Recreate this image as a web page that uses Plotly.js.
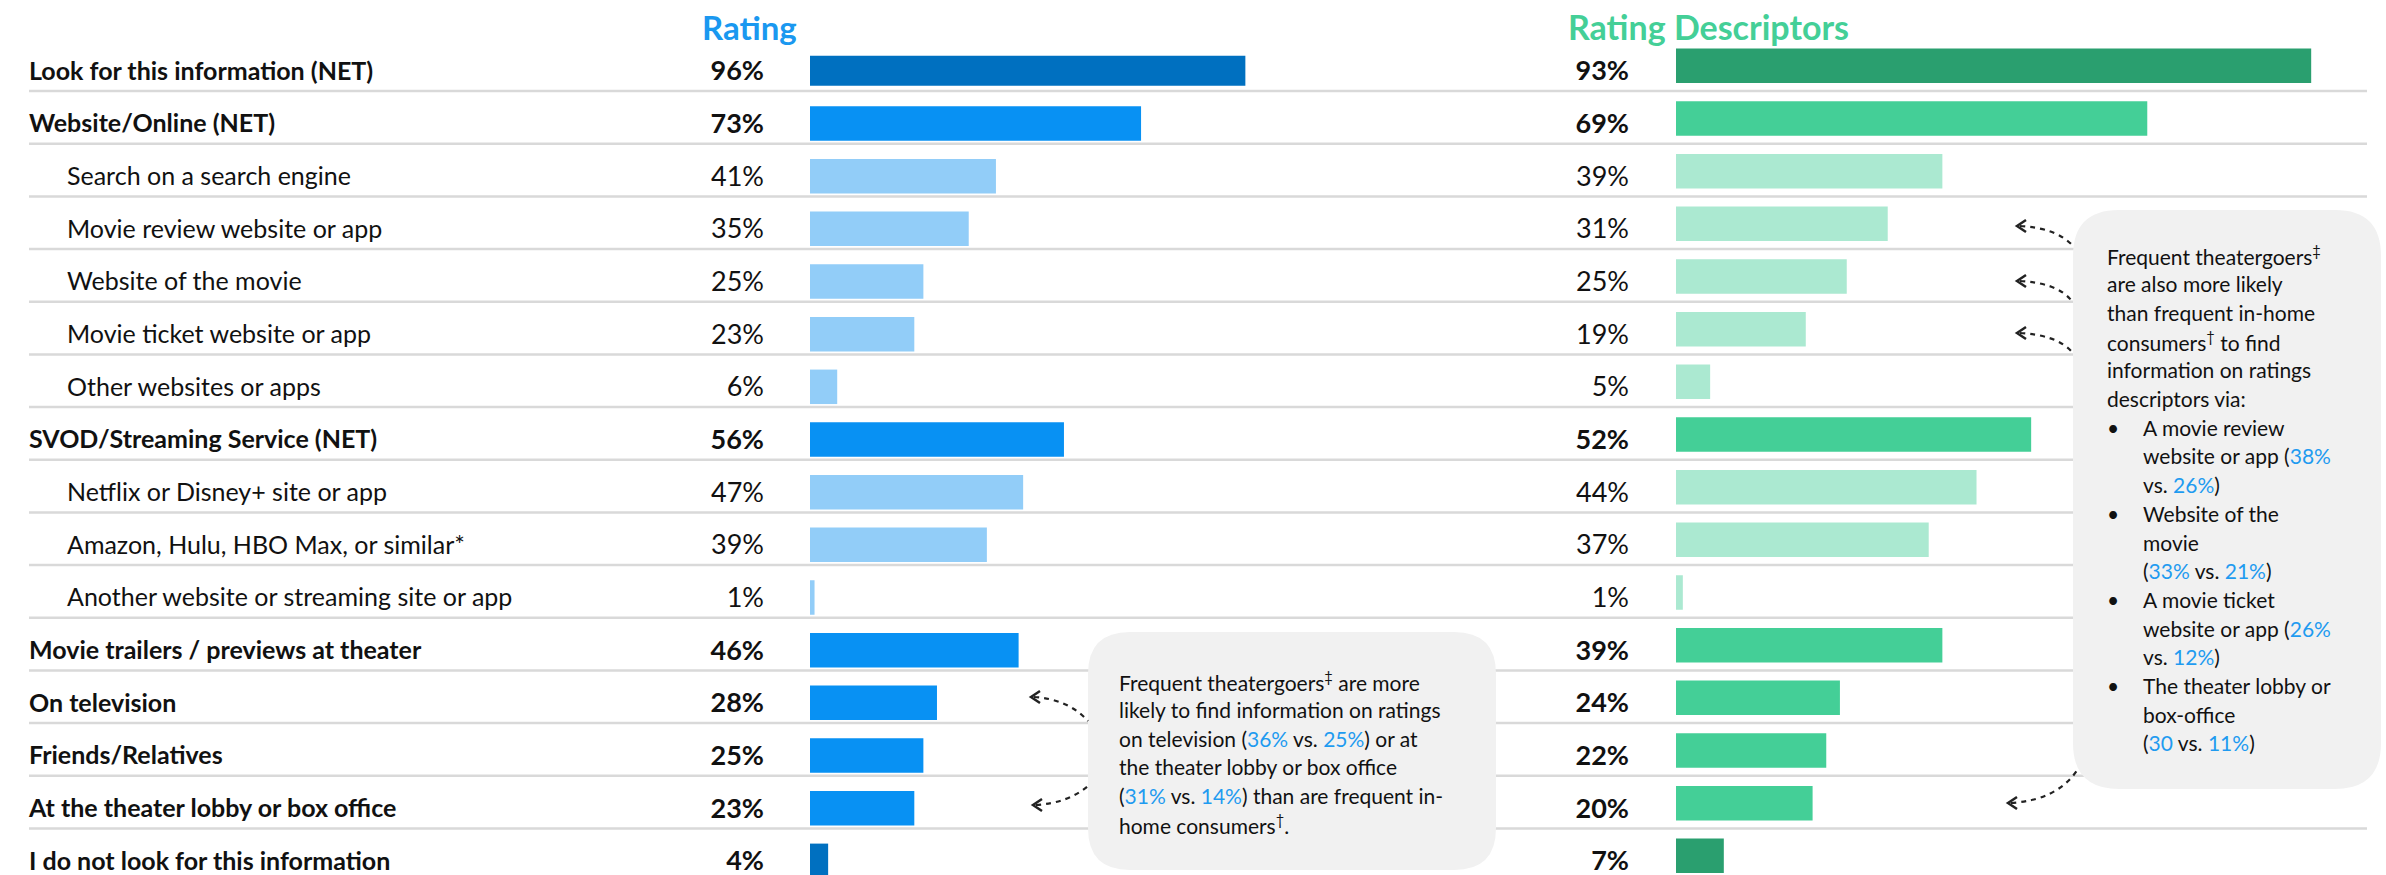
<!DOCTYPE html>
<html>
<head>
<meta charset="utf-8">
<script src="https://cdn.plot.ly/plotly-3.0.1.min.js"></script>
<style>
  html, body { margin: 0; padding: 0; background: #ffffff; }
  #chart { width: 2386px; height: 875px; }
</style>
</head>
<body>
<div id="chart"></div>
<script>
// ---------------- DATA ----------------
const categories = [
  "Look for this information (NET)",
  "Website/Online (NET)",
  "Search on a search engine",
  "Movie review website or app",
  "Website of the movie",
  "Movie ticket website or app",
  "Other websites or apps",
  "SVOD/Streaming Service (NET)",
  "Netflix or Disney+ site or app",
  "Amazon, Hulu, HBO Max, or similar*",
  "Another website or streaming site or app",
  "Movie trailers / previews at theater",
  "On television",
  "Friends/Relatives",
  "At the theater lobby or box office",
  "I do not look for this information"
];
// level: 0 = total rows (dark), 1 = NET / main rows, 2 = sub rows (indented)
const levels = [0, 1, 2, 2, 2, 2, 2, 1, 2, 2, 2, 1, 1, 1, 1, 0];
const ratingValues = [96, 73, 41, 35, 25, 23, 6, 56, 47, 39, 1, 46, 28, 25, 23, 4];
const descriptorValues = [93, 69, 39, 31, 25, 19, 5, 52, 44, 37, 1, 39, 24, 22, 20, 7];
const panelTitles = ["Rating", "Rating Descriptors"];

// ---------------- LAYOUT HELPERS ----------------
const W = 2386, H = 875;
const FONT = "Lato, 'Open Sans', sans-serif";
const px = x => x / W;
const py = y => 1 - y / H;

const ROW0 = 70.8, ROWSTEP = 52.67;       // pixel centre of first row, row pitch
const LX0 = 810, LS = 4.535;              // left panel bar origin (px) and px per %
const RX0 = 1676, RS = 6.83;              // right panel bar origin (px) and px per %
const RIGHT_SHIFT = 5;                    // right panel bars sit a little higher
const TEXT_DY = 0.05;                     // small downward nudge of row texts

const leftColors = ["#0070c0", "#0891f3", "#92cdf8"];
const rightColors = ["#2a9f6f", "#44cf97", "#abe9d1"];
const BLUE_TXT = "#1f9bf0";

const idx = categories.map((_, i) => i);
const tIdx = idx.map(i => i + TEXT_DY);
const yLo = -ROW0 / ROWSTEP, yHi = yLo + H / ROWSTEP;
const y2Lo = -(ROW0 - RIGHT_SHIFT) / ROWSTEP, y2Hi = y2Lo + H / ROWSTEP;

const lUnit = p => (p - LX0) / LS;
const rUnit = p => (p - RX0) / RS;

const isBold = levels.map(l => l < 2);
const fmt = (v, b) => b ? "<b>" + v + "%</b>" : v + "%";

const traces = [
  {
    type: "bar", orientation: "h",
    x: ratingValues, y: idx,
    marker: { color: levels.map(l => leftColors[l]), line: { width: 0 } },
    width: levels.map((l, i) => i === 0 ? 0.57 : 0.655),
    xaxis: "x", yaxis: "y", hoverinfo: "skip"
  },
  {
    type: "bar", orientation: "h",
    x: descriptorValues, y: idx,
    marker: { color: levels.map(l => rightColors[l]), line: { width: 0 } },
    width: 0.655,
    xaxis: "x2", yaxis: "y2", hoverinfo: "skip"
  },
  // category labels
  {
    type: "scatter", mode: "text",
    x: levels.map(l => l === 2 ? lUnit(67) : lUnit(29)), y: tIdx,
    text: categories.map((c, i) => isBold[i] ? "<b>" + c + "</b>" : c),
    textposition: "middle right",
    textfont: { family: FONT, size: 25, color: "#111111" },
    xaxis: "x", yaxis: "y", hoverinfo: "skip", cliponaxis: false
  },
  // left percentages
  {
    type: "scatter", mode: "text",
    x: idx.map(() => lUnit(764)), y: tIdx,
    text: ratingValues.map((v, i) => fmt(v, isBold[i])),
    textposition: "middle left",
    textfont: { family: FONT, size: 27, color: "#111111" },
    xaxis: "x", yaxis: "y", hoverinfo: "skip", cliponaxis: false
  },
  // right percentages
  {
    type: "scatter", mode: "text",
    x: idx.map(() => lUnit(1629)), y: tIdx,
    text: descriptorValues.map((v, i) => fmt(v, isBold[i])),
    textposition: "middle left",
    textfont: { family: FONT, size: 27, color: "#111111" },
    xaxis: "x", yaxis: "y", hoverinfo: "skip", cliponaxis: false
  }
];

// ---------------- SHAPES ----------------
const shapes = [];
// row divider lines
for (let i = 0; i < categories.length - 1; i++) {
  shapes.push({
    type: "line", layer: "below",
    xref: "paper", yref: "y",
    x0: px(29), x1: px(2367), y0: i + 0.385, y1: i + 0.385,
    line: { color: "#d9d9d9", width: 2.5 }
  });
}
function roundRect(x0, y0, x1, y1, r) {
  const P = (x, y) => px(x) + "," + py(y);
  return "M" + P(x0 + r, y0) +
    " L" + P(x1 - r, y0) + " Q" + P(x1, y0) + " " + P(x1, y0 + r) +
    " L" + P(x1, y1 - r) + " Q" + P(x1, y1) + " " + P(x1 - r, y1) +
    " L" + P(x0 + r, y1) + " Q" + P(x0, y1) + " " + P(x0, y1 - r) +
    " L" + P(x0, y0 + r) + " Q" + P(x0, y0) + " " + P(x0 + r, y0) + " Z";
}
shapes.push({
  type: "path", xref: "paper", yref: "paper", layer: "above",
  path: roundRect(1088, 632, 1496, 870, 42),
  fillcolor: "#f1f1f1", line: { width: 0 }
});
shapes.push({
  type: "path", xref: "paper", yref: "paper", layer: "above",
  path: roundRect(2073, 210, 2381, 789, 46),
  fillcolor: "#f1f1f1", line: { width: 0 }
});
// curved dashed arrows: [tipX, tipY, ctrlX, ctrlY, endX, endY]
const arrows = [
  [1031, 697, 1068, 699, 1088, 721],
  [1033, 805, 1068, 803, 1088, 786],
  [2017, 226, 2057, 228, 2073, 246],
  [2017, 281, 2057, 283, 2071, 300],
  [2017, 333, 2057, 335, 2072, 352],
  [2008, 803, 2058, 800, 2078, 769]
];
arrows.forEach(a => {
  const P = (x, y) => px(x) + "," + py(y);
  shapes.push({
    type: "path", xref: "paper", yref: "paper", layer: "above",
    path: "M" + P(a[0] + 3, a[1]) + " Q" + P(a[2], a[3]) + " " + P(a[4], a[5]),
    line: { color: "#222222", width: 2.2, dash: "5px,5px" }
  });
  shapes.push({
    type: "path", xref: "paper", yref: "paper", layer: "above",
    path: "M" + P(a[0] + 9, a[1] - 6) + " L" + P(a[0], a[1]) + " L" + P(a[0] + 9, a[1] + 6),
    line: { color: "#222222", width: 2.5 }
  });
});

// ---------------- ANNOTATIONS ----------------
const annotations = [];
annotations.push({
  xref: "paper", yref: "paper", x: px(700), y: py(27), xanchor: "left", yanchor: "middle",
  text: "<b>" + panelTitles[0] + "</b>", showarrow: false,
  font: { family: FONT, size: 33, color: "#1a98f0" }
});
annotations.push({
  xref: "paper", yref: "paper", x: px(1566), y: py(27), xanchor: "left", yanchor: "middle",
  text: "<b>" + panelTitles[1] + "</b>", showarrow: false,
  font: { family: FONT, size: 34, color: "#44cf97" }
});
const b = s => "<span style='color:" + BLUE_TXT + "'>" + s + "</span>";
const box1 = [
  "Frequent theatergoers<sup>‡</sup> are more",
  "likely to find information on ratings",
  "on television (" + b("36%") + " vs. " + b("25%") + ") or at",
  "the theater lobby or box office",
  "(" + b("31%") + " vs. " + b("14%") + ") than are frequent in-",
  "home consumers<sup>†</sup>."
];
box1.forEach((t, k) => annotations.push({
  xref: "paper", yref: "paper", x: px(1117), y: py(681 + k * 28.6),
  xanchor: "left", yanchor: "middle", text: t, showarrow: false,
  font: { family: FONT, size: 21, color: "#111111" }
}));
const box2 = [
  [0, "Frequent theatergoers<sup>‡</sup>"],
  [0, "are also more likely"],
  [0, "than frequent in-home"],
  [0, "consumers<sup>†</sup> to find"],
  [0, "information on ratings"],
  [0, "descriptors via:"],
  [1, "A movie review"],
  [2, "website or app (" + b("38%")],
  [2, "vs. " + b("26%") + ")"],
  [1, "Website of the"],
  [2, "movie"],
  [2, "(" + b("33%") + " vs. " + b("21%") + ")"],
  [1, "A movie ticket"],
  [2, "website or app (" + b("26%")],
  [2, "vs. " + b("12%") + ")"],
  [1, "The theater lobby or"],
  [2, "box-office"],
  [2, "(" + b("30") + " vs. " + b("11%") + ")"]
];
box2.forEach((e, k) => {
  const y = py(255 + k * 28.7);
  annotations.push({
    xref: "paper", yref: "paper", x: px(e[0] === 0 ? 2105 : 2141), y: y,
    xanchor: "left", yanchor: "middle", text: e[1], showarrow: false,
    font: { family: FONT, size: 21, color: "#111111" }
  });
  if (e[0] === 1) {
    annotations.push({
      xref: "paper", yref: "paper", x: px(2105), y: y,
      xanchor: "left", yanchor: "middle", text: "•", showarrow: false,
      font: { family: FONT, size: 21, color: "#111111" }
    });
  }
});

const hidden = { visible: false, fixedrange: true, showgrid: false, zeroline: false };
const layout = {
  width: W, height: H,
  margin: { l: 0, r: 0, t: 0, b: 0, pad: 0 },
  paper_bgcolor: "#ffffff", plot_bgcolor: "rgba(0,0,0,0)",
  showlegend: false,
  barmode: "overlay",
  font: { family: FONT },
  xaxis: Object.assign({ domain: [0, 1], range: [lUnit(0), lUnit(W)] }, hidden),
  xaxis2: Object.assign({ domain: [0, 1], range: [rUnit(0), rUnit(W)], overlaying: "x", anchor: "y2" }, hidden),
  yaxis: Object.assign({ domain: [0, 1], range: [yHi, yLo] }, hidden),
  yaxis2: Object.assign({ domain: [0, 1], range: [y2Hi, y2Lo], overlaying: "y", anchor: "x2" }, hidden),
  shapes: shapes,
  annotations: annotations
};
Plotly.newPlot("chart", traces, layout, { staticPlot: true, displayModeBar: false });
</script>
</body>
</html>
